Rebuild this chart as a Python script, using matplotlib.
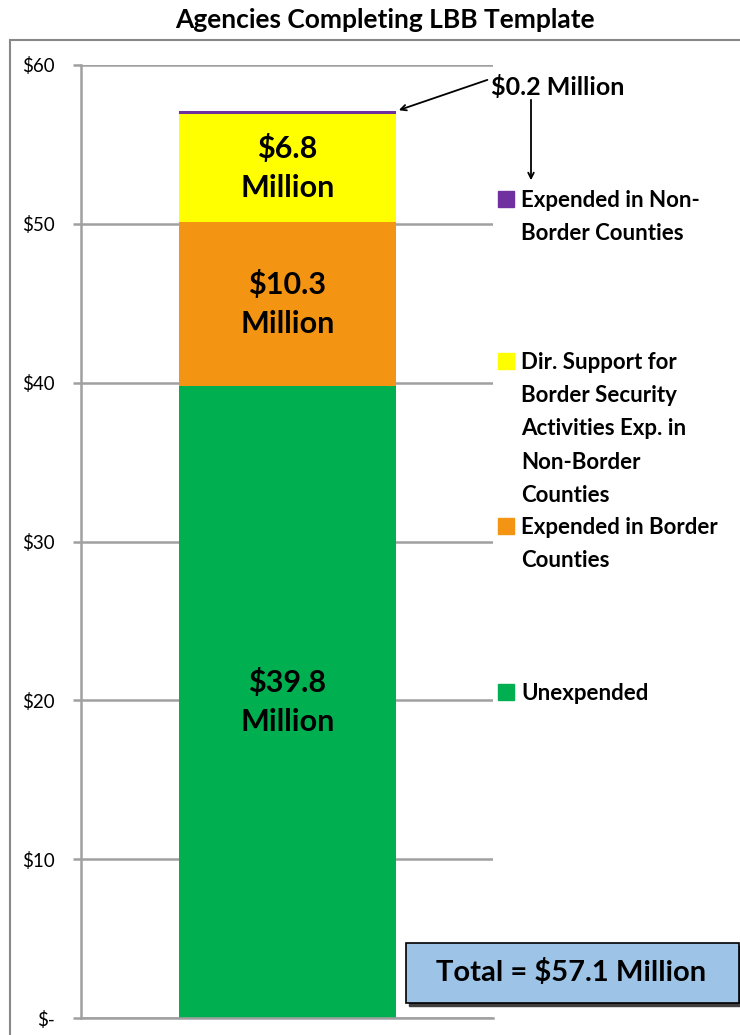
import matplotlib.pyplot as plt
from matplotlib.patches import Rectangle

plt.rcParams['font.family'] = ['Lato', 'DejaVu Sans']

# data (millions of dollars), bottom to top
categories = ['Unexpended', 'Expended in Border\nCounties',
              'Dir. Support for\nBorder Security\nActivities Exp. in\nNon-Border\nCounties',
              'Expended in Non-\nBorder Counties']
values = [39.8, 10.3, 6.8, 0.2]
bar_labels = ['$39.8\nMillion', '$10.3\nMillion', '$6.8\nMillion', None]
colors = ['#00B050', '#F39412', '#FFFF00', '#7030A0']
yticks = [0, 10, 20, 30, 40, 50, 60]
ytick_labels = ['$-', '$10', '$20', '$30', '$40', '$50', '$60']
total = sum(values)

W, H = 740, 1035
fig = plt.figure(figsize=(W / 100, H / 100), dpi=100)

# outer chart frame
fig.patches.append(Rectangle((10 / W, -0.1), 1.2, 1 - 40 / H + 0.1,
                             transform=fig.transFigure, fill=False,
                             edgecolor='#888888', linewidth=1.5))

fig.text(385 / W, 1 - 20 / H, 'Agencies Completing LBB Template',
         ha='center', va='center', fontsize=19, fontweight='bold')

ax = fig.add_axes([81 / W, 17 / H, 412 / W, (1018 - 65) / H])
ax.set_xlim(0, 1)
ax.set_ylim(0, 60)

bottom = 0
for v, c, lab in zip(values, colors, bar_labels):
    ax.bar(0.501, v, width=0.527, bottom=bottom, color=c, zorder=3)
    if lab:
        ax.text(0.501, bottom + v / 2, lab, ha='center', va='center',
                fontsize=22, fontweight='bold', linespacing=1.5, zorder=4)
    bottom += v

ax.set_yticks(yticks)
ax.set_yticklabels(ytick_labels, fontsize=13.5)
ax.set_xticks([])
ax.grid(axis='y', color='#A0A0A0', linewidth=1.8, zorder=0)
ax.tick_params(axis='y', length=6, width=1.8, color='#A0A0A0', pad=13)
for s in ['top', 'right']:
    ax.spines[s].set_visible(False)
for s in ['left', 'bottom']:
    ax.spines[s].set_color('#A0A0A0')
    ax.spines[s].set_linewidth(1.8)
ax.spines['bottom'].set_zorder(5)

# legend drawn by hand (top entry first)
leg_y = [199, 361, 526, 692]
for cat, c, y in zip(categories[::-1], colors[::-1], leg_y):
    fig.patches.append(Rectangle((498 / W, 1 - (y + 8) / H), 16 / W, 16 / H,
                                 transform=fig.transFigure, color=c))
    fig.text(521 / W, 1 - (y - 9) / H, cat, ha='left', va='top',
             fontsize=16, fontweight='bold', linespacing=1.72)

# small slice annotation
fig.text(558 / W, 1 - 87 / H, '$%.1f Million' % values[3], ha='center',
         va='center', fontsize=18, fontweight='bold')
ax.annotate('', xy=(0.765, total), xycoords='data',
            xytext=(490 / W, 1 - 79 / H), textcoords='figure fraction',
            arrowprops=dict(arrowstyle='->', color='black', lw=1.3))
fig.add_artist(plt.Annotation('', xy=(531 / W, 1 - 183 / H), xycoords='figure fraction',
                              xytext=(531 / W, 1 - 97 / H), textcoords='figure fraction',
                              arrowprops=dict(arrowstyle='->', color='black', lw=1.3)))

# total box
fig.patches.append(Rectangle((409 / W, 1 - 1006 / H), 333 / W, 60 / H,
                             transform=fig.transFigure, color='#404040', zorder=1))
fig.patches.append(Rectangle((406 / W, 1 - 1003 / H), 333 / W, 60 / H,
                             transform=fig.transFigure, facecolor='#9DC3E6',
                             edgecolor='black', linewidth=1.2, zorder=2))
fig.text(571 / W, 1 - 973 / H, 'Total = $%.1f Million' % total, ha='center',
         va='center', fontsize=21, fontweight='bold', zorder=3)

fig.savefig('out.png', dpi=100)
